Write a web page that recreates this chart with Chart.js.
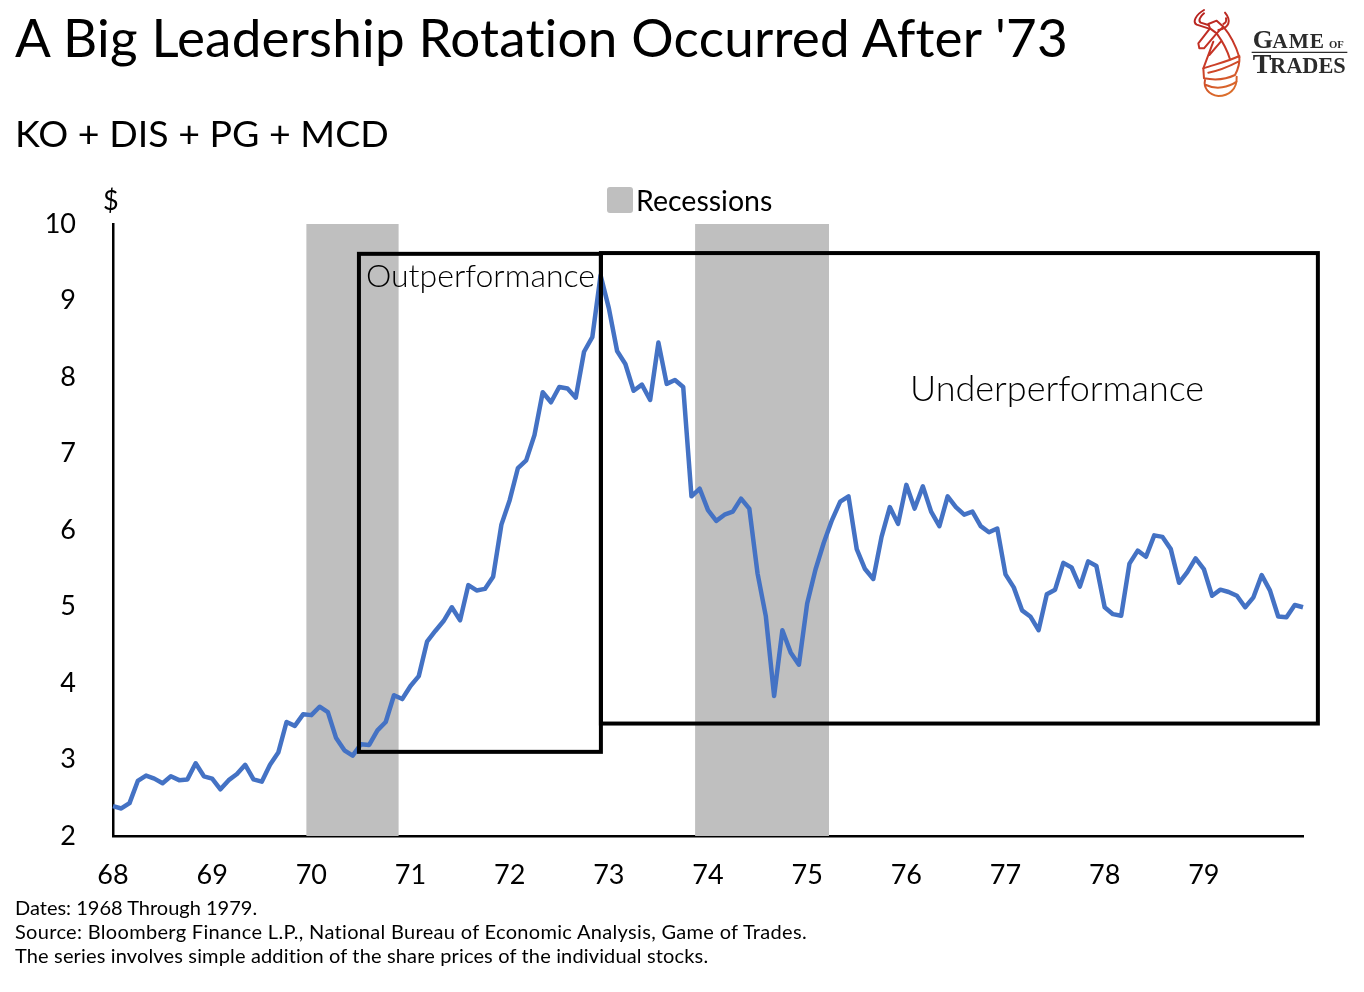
<!DOCTYPE html>
<html>
<head>
<meta charset="utf-8">
<script src="https://cdn.jsdelivr.net/npm/chart.js@4"></script>
<style>
  html, body { margin: 0; background: #fff; }
  body { width: 1364px; height: 992px; position: relative; overflow: hidden; font-family: Lato, sans-serif; color: #000; font-variant-ligatures: none; }
  canvas { position: absolute; left: 0; top: 0; }
  .txt { position: absolute; white-space: nowrap; line-height: 1; }
  #title { left: 15px; top: 10px; font-size: 53px; letter-spacing: 0.2px; }
  #subtitle { left: 15px; top: 114px; font-size: 37.5px; }
  #dollar { left: 103px; top: 186px; font-size: 27px; }
  .note { left: 15px; font-size: 20px; }
  .callout { font-weight: 300; }
  #legend { left: 607px; top: 186px; font-size: 28.5px; display: flex; align-items: center; gap: 3px; }
  #legend i { display: block; width: 26px; height: 26px; border-radius: 3px; background: #BFBFBF; }
  #logo { position: absolute; left: 1180px; top: 0; }
</style>
</head>
<body>
<canvas id="chart" width="1364" height="992"></canvas>
<div class="txt" id="title">A Big Leadership Rotation Occurred After '73</div>
<div class="txt" id="subtitle">KO + DIS + PG + MCD</div>
<div class="txt" id="dollar">$</div>
<div class="txt" id="legend"><i></i><span>Recessions</span></div>
<div class="txt callout" style="left:366px;top:259px;font-size:32px">Outperformance</div>
<div class="txt callout" style="left:910px;top:369px;font-size:36px">Underperformance</div>
<div class="txt note" style="top:897px">Dates: 1968 Through 1979.</div>
<div class="txt note" style="top:921px;letter-spacing:0.32px">Source: Bloomberg Finance L.P., National Bureau of Economic Analysis, Game of Trades.</div>
<div class="txt note" style="top:945px;letter-spacing:0.15px">The series involves simple addition of the share prices of the individual stocks.</div>

<svg id="logo" width="184" height="100" viewBox="0 0 552 300">
  <defs>
    <linearGradient id="logoGrad" gradientUnits="userSpaceOnUse" x1="45" y1="30" x2="180" y2="290">
      <stop offset="0" stop-color="#b5201e"/>
      <stop offset="0.55" stop-color="#c93a28"/>
      <stop offset="1" stop-color="#e07a2c"/>
    </linearGradient>
  </defs>
  <g fill="none" stroke="url(#logoGrad)" stroke-width="6" stroke-linejoin="round" stroke-linecap="round">
    <path d="M72,30 C48,44 36,66 50,74 L85,85 M72,40 C60,50 54,62 62,68 L85,75"/>
    <path d="M135,38 C155,62 148,84 115,90 M138,55 C140,64 136,70 130,72"/>
    <path d="M85,72 L110,62 L130,80 L110,100 L90,85 L55,130 L58,145 L72,145 L110,100 M90,85 L85,72"/>
    <path d="M130,80 C155,110 170,145 178,172 M110,100 C128,125 142,150 150,178 M100,125 L70,205 M88,165 L125,122"/>
    <path d="M70,205 C110,192 150,182 178,168 C180,190 172,212 165,225 C135,240 100,240 72,235 Z M85,218 C120,212 150,198 175,185"/>
    <path d="M75,240 C70,262 85,285 115,288 C145,288 172,270 170,230 M78,255 C110,270 145,262 170,245"/>
  </g>
  <text font-family="'Liberation Serif', serif" font-weight="bold" fill="#2b2b2b">
    <tspan x="218" y="145" font-size="78">G</tspan><tspan font-size="64" dx="-2" letter-spacing="3">AME</tspan><tspan font-size="32" dx="12">OF</tspan>
    <tspan x="218" y="220" font-size="84">T</tspan><tspan font-size="67" dx="-4">RADES</tspan>
  </text>
  <path d="M215,157 H502" stroke="#2b2b2b" stroke-width="4"/>
</svg>

<script>
// 1968 起的月度数值, 从图上读的
const startYear = 1968;
const seriesValues = [
  2.39, 2.36, 2.43, 2.72, 2.79, 2.75, 2.69, 2.78, 2.73, 2.74, 2.95, 2.78,
  2.75, 2.61, 2.73, 2.81, 2.93, 2.74, 2.71, 2.93, 3.09, 3.49, 3.44, 3.59,
  3.58, 3.69, 3.62, 3.28, 3.12, 3.05, 3.20, 3.19, 3.38, 3.49, 3.84, 3.79,
  3.96, 4.09, 4.54, 4.68, 4.81, 4.99, 4.82, 5.28, 5.21, 5.23, 5.39, 6.07,
  6.39, 6.81, 6.91, 7.24, 7.80, 7.67, 7.87, 7.85, 7.73, 8.33, 8.52, 9.33,
  8.90, 8.34, 8.17, 7.82, 7.90, 7.70, 8.45, 7.91, 7.96, 7.87, 6.44, 6.54,
  6.26, 6.12, 6.20, 6.24, 6.41, 6.28, 5.43, 4.87, 3.83, 4.69, 4.40, 4.24,
  5.04, 5.48, 5.83, 6.13, 6.37, 6.44, 5.75, 5.49, 5.36, 5.91, 6.30, 6.08,
  6.59, 6.28, 6.57, 6.24, 6.05, 6.44, 6.30, 6.20, 6.24, 6.05, 5.97, 6.02,
  5.42, 5.25, 4.95, 4.87, 4.69, 5.16, 5.22, 5.57, 5.51, 5.26, 5.59, 5.53,
  4.99, 4.90, 4.88, 5.56, 5.73, 5.65, 5.93, 5.91, 5.75, 5.31, 5.45, 5.63,
  5.49, 5.14, 5.22, 5.19, 5.14, 4.99, 5.12, 5.41, 5.21, 4.87, 4.86, 5.02,
  4.99
];
const yearLabels = ['68', '69', '70', '71', '72', '73', '74', '75', '76', '77', '78', '79'];
const yTicks = [2, 3, 4, 5, 6, 7, 8, 9, 10];

// 衰退区间和两个方框 [x起, x止, y下, y上]
const recessions = [[1969.95, 1970.88], [1973.87, 1975.22]];
const outperformBox = [1970.48, 1972.92, 3.10, 9.61];
const underperformBox = [1972.92, 1980.15, 3.47, 9.62];

const BLUE = '#4472C4';
const GREY = '#BFBFBF';

const bandsAndBoxes = {
    id: 'bandsAndBoxes',
    // 灰色衰退带在折线下面
    beforeDatasetsDraw(chart) {
        const { ctx, scales: { x }, chartArea } = chart;
        ctx.save();
        ctx.fillStyle = GREY;
        recessions.forEach(r => {
            const x0 = x.getPixelForValue(r[0]);
            const x1 = x.getPixelForValue(r[1]);
            ctx.fillRect(x0, chartArea.top, x1 - x0, chartArea.bottom - chartArea.top);
        });
        ctx.restore();
    },
    // 黑框压在折线上面
    afterDatasetsDraw(chart) {
        const { ctx, scales: { x, y } } = chart;
        ctx.save();
        ctx.strokeStyle = '#000';
        ctx.lineWidth = 4;
        ctx.lineJoin = 'miter';
        [outperformBox, underperformBox].forEach(b => {
            const x0 = x.getPixelForValue(b[0]);
            const x1 = x.getPixelForValue(b[1]);
            const yTop = y.getPixelForValue(b[3]);
            const yBot = y.getPixelForValue(b[2]);
            ctx.strokeRect(x0, yTop, x1 - x0, yBot - yTop);
        });
        ctx.restore();
    }
};

new Chart(document.getElementById('chart'), {
    type: 'line',
    data: {
        datasets: [{
            label: 'KO + DIS + PG + MCD',
            data: seriesValues.map((v, i) => ({ x: startYear + i / 12, y: v })),
            borderColor: BLUE,
            borderWidth: 4.5,
            pointRadius: 0,
            tension: 0,
            borderJoinStyle: 'round',
            clip: false
        }]
    },
    options: {
        responsive: false,
        animation: false,
        devicePixelRatio: 1,
        layout: { padding: { left: 41, right: 61, top: 224, bottom: 96 } },
        plugins: {
            tooltip: { enabled: false },
            legend: { display: false }
        },
        scales: {
            x: {
                type: 'linear',
                min: 1968,
                max: 1980,
                afterFit: scale => { scale.height = 60; },
                grid: { display: false },
                border: { color: '#000', width: 2.5 },
                ticks: {
                    stepSize: 1,
                    padding: 15,
                    maxRotation: 0,
                    color: '#000',
                    font: { family: 'Lato', size: 27 },
                    callback: v => yearLabels[v - startYear] ?? ''
                }
            },
            y: {
                min: 2,
                max: 10,
                afterFit: scale => { scale.width = 72; },
                afterBuildTicks: scale => { scale.ticks = yTicks.map(v => ({ value: v })); },
                grid: { display: false },
                border: { color: '#000', width: 2.5 },
                ticks: {
                    padding: 29,
                    color: '#000',
                    font: { family: 'Lato', size: 27 }
                }
            }
        }
    },
    plugins: [bandsAndBoxes]
});
</script>
</body>
</html>
